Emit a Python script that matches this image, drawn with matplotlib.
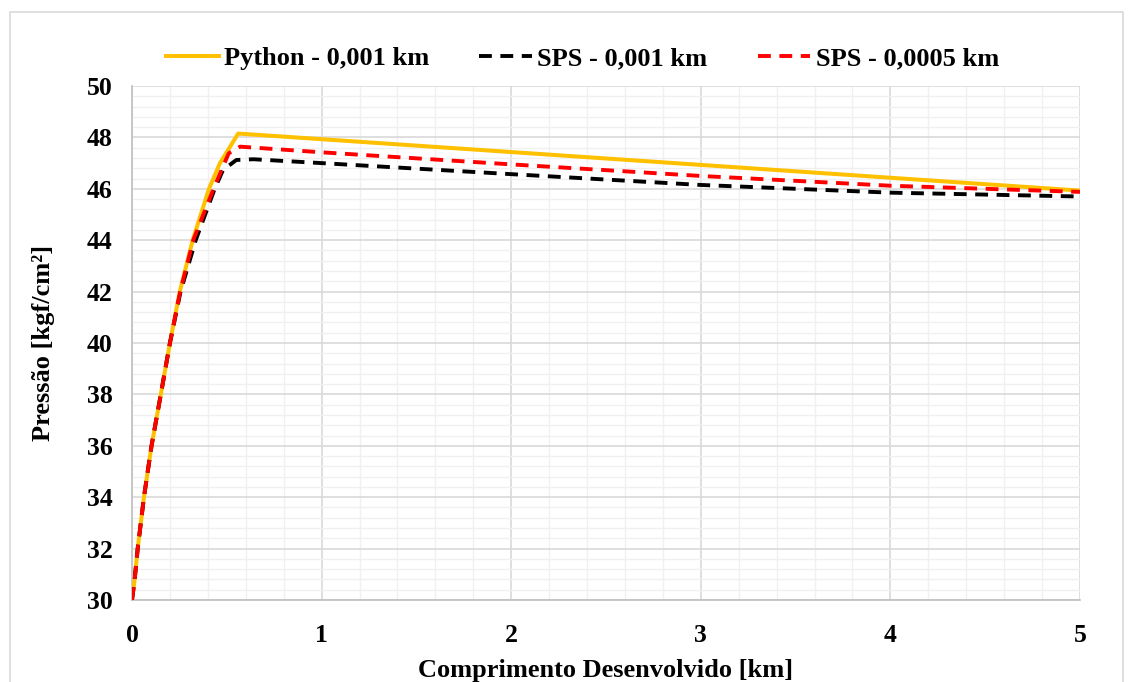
import matplotlib
matplotlib.use('Agg')
import matplotlib.pyplot as plt
from matplotlib.patches import Rectangle
from matplotlib.ticker import MultipleLocator

# data
python_x = [0, 0.014, 0.03, 0.063, 0.103, 0.152, 0.2, 0.252, 0.32, 0.406, 0.464, 0.56, 5.0]
python_y = [30, 30.8, 32, 34, 36, 38, 40, 42, 44, 46, 47, 48.15, 45.93]

sps_1m_x = [0, 0.014, 0.03, 0.063, 0.103, 0.152, 0.2, 0.256, 0.336, 0.436, 0.48, 0.55, 0.64,
            1.0, 2.0, 3.0, 4.0, 5.0]
sps_1m_y = [30, 30.8, 32, 34, 36, 38, 40, 42, 44, 46, 46.73, 47.12, 47.15,
            47.0, 46.57, 46.15, 45.85, 45.7]

sps_05m_x = [0, 0.014, 0.03, 0.063, 0.103, 0.152, 0.2, 0.254, 0.323, 0.43, 0.51, 0.57,
             1.0, 2.0, 3.0, 4.0, 5.0]
sps_05m_y = [30, 30.8, 32, 34, 36, 38, 40, 42, 44, 46, 47.38, 47.64,
             47.42, 46.95, 46.5, 46.12, 45.88]

labels = ['Python - 0,001 km', 'SPS - 0,001 km', 'SPS - 0,0005 km']

plt.rcParams['font.family'] = ['Liberation Serif', 'DejaVu Serif']
plt.rcParams['font.weight'] = 'bold'

fig = plt.figure(figsize=(11.28, 6.82), dpi=100)
ax = fig.add_axes([132/1128, 1 - 600/682, (1080 - 132)/1128, (600 - 86)/682])

# outer chart border
fig.patches.append(Rectangle((10/1128, -0.05), (1123 - 10)/1128, 1.05 - 12/682,
                             transform=fig.transFigure, fill=False,
                             edgecolor='#d9d9d9', linewidth=1.2))

ax.plot(python_x, python_y, color='#ffc000', lw=2.9, label=labels[0], zorder=3)
ax.plot(sps_1m_x, sps_1m_y, color='black', lw=2.8, ls=(0, (3.3, 2.2)), label=labels[1], zorder=4)
ax.plot(sps_05m_x, sps_05m_y, color='#ff0000', lw=2.8, ls=(0, (3.3, 2.2)), label=labels[2], zorder=5)

ax.set_xlim(0, 5)
ax.set_ylim(30, 50)
ax.xaxis.set_major_locator(MultipleLocator(1))
ax.xaxis.set_minor_locator(MultipleLocator(0.2))
ax.yaxis.set_major_locator(MultipleLocator(2))
ax.yaxis.set_minor_locator(MultipleLocator(0.4))
ax.grid(which='major', color='#d9d9d9', lw=1.2, zorder=0)
ax.grid(which='minor', color='#f0f0f0', lw=1.0, zorder=0)
ax.set_axisbelow(True)

for s in ['top', 'right']:
    ax.spines[s].set_visible(False)
for s in ['left', 'bottom']:
    ax.spines[s].set_color('#bfbfbf')
    ax.spines[s].set_linewidth(1.2)

ax.tick_params(which='both', length=0)
ax.tick_params(axis='x', pad=17, labelsize=18.5)
ax.tick_params(axis='y', pad=14, labelsize=18.5)

ax.set_xlabel('Comprimento Desenvolvido [km]', fontsize=19, fontweight='bold', labelpad=9)
ax.set_ylabel('Pressão [kgf/cm²]', fontsize=19, fontweight='bold', labelpad=23)

leg = ax.legend(loc='lower center', bbox_to_anchor=(0.475, 1.0), ncol=3, frameon=False,
                fontsize=19, handlelength=2.0, handletextpad=0.2, columnspacing=1.9,
                borderaxespad=0.2)

fig.savefig('out.png', dpi=100)
